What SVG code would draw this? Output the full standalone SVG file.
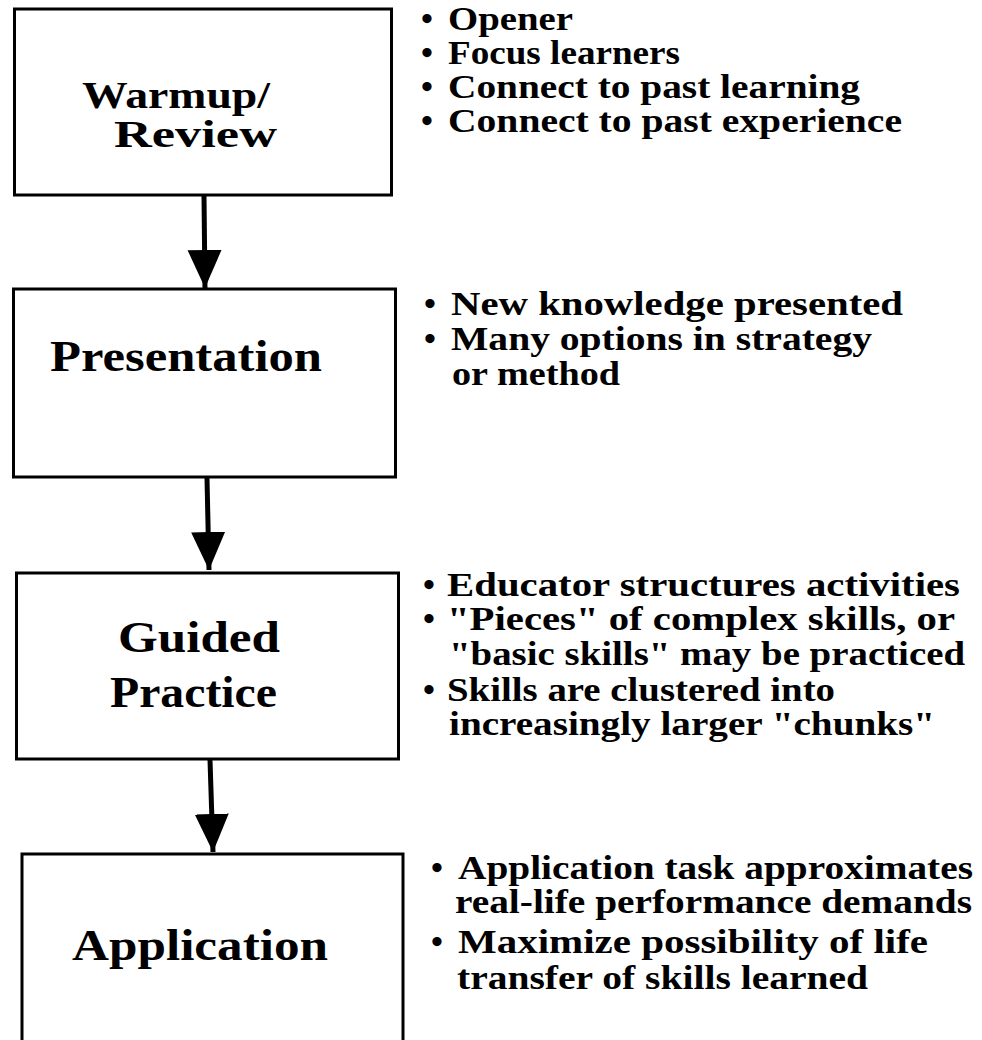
<svg xmlns="http://www.w3.org/2000/svg" width="982" height="1040" viewBox="0 0 982 1040">
<defs>
<style>
.box{fill:#fff;stroke:#000;stroke-width:3}
.lbl{font-family:"Liberation Serif","DejaVu Serif",serif;font-weight:bold;font-size:44px;fill:#000}
.lbl2{font-size:38px}
.txt{font-family:"Liberation Serif","DejaVu Serif",serif;font-weight:bold;font-size:34px;fill:#000}
.bul{font-size:34px}
.conn{stroke:#000;stroke-width:5;fill:none;marker-end:url(#ah)}
</style>
<marker id="ah" markerUnits="userSpaceOnUse" markerWidth="40" markerHeight="40" viewBox="0 0 40 40" refX="38" refY="17" orient="auto">
<path d="M0,0 L38,17 L0,34 Z" fill="#000"/>
</marker>
</defs>
<rect width="982" height="1040" fill="#fff"/>
<g id="connectors">
<line class="conn" x1="204" y1="196" x2="205" y2="288"/>
<line class="conn" x1="207" y1="478" x2="209" y2="570"/>
<line class="conn" x1="210" y1="760" x2="213" y2="852"/>
</g>
<g id="warmup">
<rect class="box" x="14.5" y="9" width="377" height="186"/>
<text class="lbl lbl2"><tspan x="82" y="108" textLength="188" lengthAdjust="spacingAndGlyphs">Warmup/</tspan><tspan x="114" y="146.5" textLength="163" lengthAdjust="spacingAndGlyphs">Review</tspan></text>
</g>
<g id="warmup-notes">
<text class="txt"><tspan class="bul" x="421" y="30">•</tspan><tspan x="448" y="30" textLength="125" lengthAdjust="spacingAndGlyphs">Opener</tspan><tspan class="bul" x="421" y="64">•</tspan><tspan x="448" y="64" textLength="232" lengthAdjust="spacingAndGlyphs">Focus learners</tspan><tspan class="bul" x="421" y="98">•</tspan><tspan x="448" y="98" textLength="412" lengthAdjust="spacingAndGlyphs">Connect to past learning</tspan><tspan class="bul" x="421" y="132">•</tspan><tspan x="448" y="132" textLength="454" lengthAdjust="spacingAndGlyphs">Connect to past experience</tspan></text>
</g>
<g id="presentation">
<rect class="box" x="13.5" y="289" width="382" height="188"/>
<text class="lbl" x="50" y="371" textLength="272" lengthAdjust="spacingAndGlyphs">Presentation</text>
</g>
<g id="presentation-notes">
<text class="txt"><tspan class="bul" x="424" y="315">•</tspan><tspan x="451" y="315" textLength="452" lengthAdjust="spacingAndGlyphs">New knowledge presented</tspan><tspan class="bul" x="424" y="350">•</tspan><tspan x="451" y="350" textLength="421" lengthAdjust="spacingAndGlyphs">Many options in strategy</tspan><tspan x="452" y="385" textLength="168" lengthAdjust="spacingAndGlyphs">or method</tspan></text>
</g>
<g id="guided">
<rect class="box" x="16.5" y="573" width="382" height="186"/>
<text class="lbl"><tspan x="118" y="652" textLength="162" lengthAdjust="spacingAndGlyphs">Guided</tspan><tspan x="110" y="707" textLength="167" lengthAdjust="spacingAndGlyphs">Practice</tspan></text>
</g>
<g id="guided-notes">
<text class="txt"><tspan class="bul" x="423" y="596">•</tspan><tspan x="447" y="596" textLength="513" lengthAdjust="spacingAndGlyphs">Educator structures activities</tspan><tspan class="bul" x="423" y="630">•</tspan><tspan x="447" y="630" textLength="508" lengthAdjust="spacingAndGlyphs">"Pieces" of complex skills, or</tspan><tspan x="449" y="665" textLength="516" lengthAdjust="spacingAndGlyphs">"basic skills" may be practiced</tspan><tspan class="bul" x="423" y="701">•</tspan><tspan x="447" y="701" textLength="388" lengthAdjust="spacingAndGlyphs">Skills are clustered into</tspan><tspan x="449" y="735" textLength="486" lengthAdjust="spacingAndGlyphs">increasingly larger "chunks"</tspan></text>
</g>
<g id="application">
<rect class="box" x="22" y="854" width="381" height="200"/>
<text class="lbl" x="72" y="960" textLength="256" lengthAdjust="spacingAndGlyphs">Application</text>
</g>
<g id="application-notes">
<text class="txt"><tspan class="bul" x="431" y="879">•</tspan><tspan x="458" y="879" textLength="515" lengthAdjust="spacingAndGlyphs">Application task approximates</tspan><tspan x="455" y="913" textLength="517" lengthAdjust="spacingAndGlyphs">real-life performance demands</tspan><tspan class="bul" x="431" y="953">•</tspan><tspan x="458" y="953" textLength="470" lengthAdjust="spacingAndGlyphs">Maximize possibility of life</tspan><tspan x="457" y="989" textLength="411" lengthAdjust="spacingAndGlyphs">transfer of skills learned</tspan></text>
</g>
</svg>
